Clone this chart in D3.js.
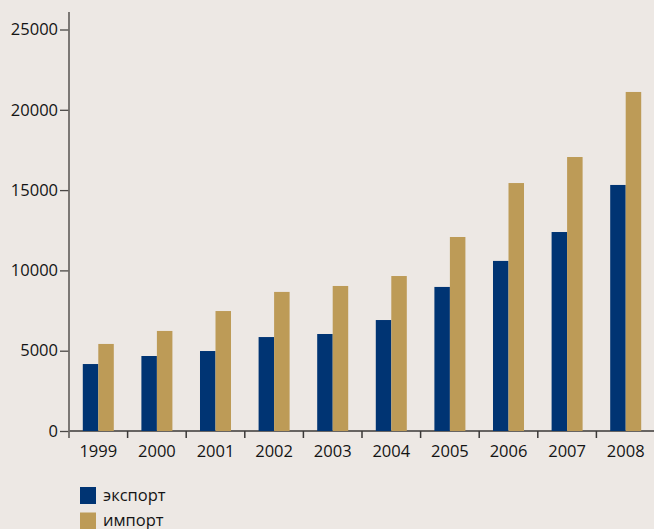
<!DOCTYPE html>
<html>
<head>
<meta charset="utf-8">
<script src="https://cdn.jsdelivr.net/npm/d3@7"></script>
<style>
  html, body { margin: 0; padding: 0; background: #ede8e4; }
  svg { display: block; }
  text { font-family: "Open Sans", "Noto Sans", sans-serif; fill: #141414; }
</style>
</head>
<body>
<svg id="chart" width="654" height="529"></svg>
<script>
// Years on the category axis
const years = ["1999", "2000", "2001", "2002", "2003", "2004", "2005", "2006", "2007", "2008"];
// Series values
const exportValues = [4170, 4670, 4980, 5850, 6040, 6910, 8970, 10590, 12390, 15320];
const importValues = [5420, 6230, 7470, 8660, 9030, 9650, 12080, 15440, 17060, 21110];
const seriesNames = ["экспорт", "импорт"];
const seriesColors = ["#003473", "#bd9b57"];
// Value axis tick labels
const yTicks = [0, 5000, 10000, 15000, 20000, 25000];

const svg = d3.select("#chart");
const W = 654, H = 529;
const plotLeft = 69, plotRight = 655, baseline = 431, plotTop = 29.5;
const fontSize = "16.5px";

const x = d3.scaleBand().domain(years).range([plotLeft, plotRight]).padding(0);
const xInner = d3.scaleBand().domain(seriesNames).range([0, x.step()]).paddingInner(0).paddingOuter(0.89);
const y = d3.scaleLinear().domain([0, 25000]).range([baseline, plotTop]);

const rows = years.map((yr, i) => ({ year: yr, values: [exportValues[i], importValues[i]] }));

// X axis line
svg.append("line")
  .attr("x1", plotLeft).attr("x2", W)
  .attr("y1", baseline).attr("y2", baseline)
  .attr("stroke", "#3a3837").attr("stroke-width", 1.5);

// Bars
const groups = svg.append("g").selectAll("g")
  .data(rows).join("g")
  .attr("transform", d => `translate(${x(d.year)},0)`);

groups.selectAll("rect")
  .data(d => d.values.map((v, k) => ({ name: seriesNames[k], value: v, color: seriesColors[k] })))
  .join("rect")
  .attr("x", d => xInner(d.name))
  .attr("width", xInner.bandwidth())
  .attr("y", d => y(d.value))
  .attr("height", d => baseline - y(d.value))
  .attr("fill", d => d.color);

// Y axis
const yAxis = svg.append("g")
  .attr("transform", `translate(${plotLeft},0)`)
  .call(d3.axisLeft(y).tickValues(yTicks).tickFormat(d3.format("d")).tickSize(9).tickPadding(2));
yAxis.select(".domain").remove();
yAxis.selectAll(".tick line").attr("stroke", "#4a4745").attr("stroke-width", 1.3);
yAxis.selectAll(".tick text").style("font-size", fontSize).attr("fill", "#141414");

svg.append("line")
  .attr("x1", plotLeft).attr("x2", plotLeft)
  .attr("y1", 12).attr("y2", baseline + 7)
  .attr("stroke", "#6f6b68").attr("stroke-width", 1.8);

// X axis boundary ticks
svg.append("g").selectAll("line")
  .data(years.slice(1)).join("line")
  .attr("x1", d => x(d)).attr("x2", d => x(d))
  .attr("y1", baseline).attr("y2", baseline + 7)
  .attr("stroke", "#3a3837").attr("stroke-width", 1.5);

// X axis labels
const xAxis = svg.append("g")
  .attr("transform", `translate(0,${baseline})`)
  .call(d3.axisBottom(x).tickSize(0).tickPadding(14));
xAxis.select(".domain").remove();
xAxis.selectAll(".tick text").style("font-size", fontSize).attr("fill", "#141414");

// Legend
const legend = svg.append("g").attr("transform", "translate(80,487)");
seriesNames.forEach((name, k) => {
  const g = legend.append("g").attr("transform", `translate(0,${k * 25.5})`);
  g.append("rect").attr("width", 16).attr("height", 17).attr("fill", seriesColors[k]);
  g.append("text").attr("x", 23).attr("y", 13.5).style("font-size", fontSize).text(name);
});
</script>
</body>
</html>
